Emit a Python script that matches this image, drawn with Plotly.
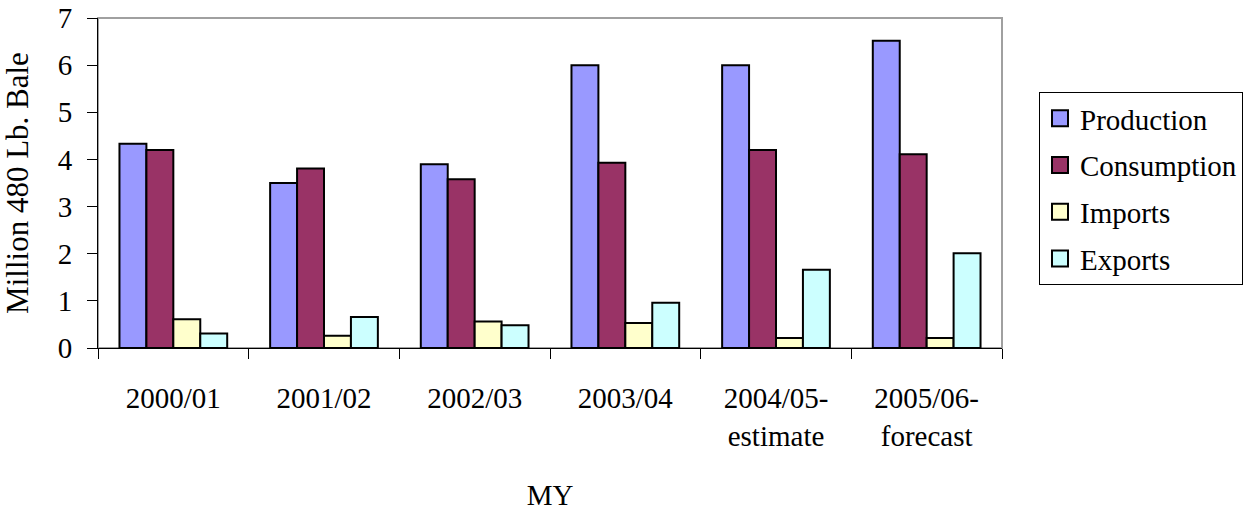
import plotly.graph_objects as go

categories = ["2000/01", "2001/02", "2002/03", "2003/04", "2004/05-<br>estimate", "2005/06-<br>forecast"]
production = [4.33, 3.50, 3.90, 6.00, 6.00, 6.52]
consumption = [4.20, 3.81, 3.58, 3.93, 4.20, 4.11]
imports = [0.61, 0.26, 0.56, 0.53, 0.21, 0.21]
exports = [0.31, 0.66, 0.48, 0.96, 1.66, 2.01]

series = [
    ("Production", production, "#9999FF"),
    ("Consumption", consumption, "#993366"),
    ("Imports", imports, "#FFFFCC"),
    ("Exports", exports, "#CCFFFF"),
]

FONT = "Liberation Serif, Times New Roman, serif"
FS = 29

fig = go.Figure()
for name, vals, color in series:
    fig.add_trace(go.Bar(
        name=name, x=categories, y=vals, legendgroup=name, showlegend=False,
        marker=dict(color=color, line=dict(color="black", width=2)),
    ))
for name, vals, color in series:
    fig.add_trace(go.Scatter(
        name=name, x=[None], y=[None], mode="markers", legendgroup=name,
        marker=dict(symbol="square", size=16, color=color, line=dict(color="black", width=2)),
    ))

fig.update_layout(
    width=1247, height=512,
    margin=dict(l=98, r=245, t=18, b=164),
    paper_bgcolor="white", plot_bgcolor="white",
    font=dict(family=FONT, size=FS, color="black"),
    barmode="group", bargap=0.285, bargroupgap=0,
    showlegend=True,
    legend=dict(
        xref="container", yref="container",
        x=1039 / 1247, y=1 - 92 / 512, xanchor="left", yanchor="top",
        bordercolor="black", borderwidth=1, bgcolor="white",
        font=dict(family=FONT, size=FS), itemsizing="trace",
        tracegroupgap=6,
    ),
    xaxis=dict(
        title=dict(text="MY", standoff=34, font=dict(size=FS)),
        ticks="outside", tickson="boundaries", ticklen=10, tickcolor="black",
        showline=True, linecolor="black", linewidth=1,
        showgrid=False, ticklabelstandoff=24, automargin=False,
        ticklabeloverflow="allow",
    ),
    yaxis=dict(
        title=dict(text="Million 480 Lb. Bale", standoff=20, font=dict(size=31)),
        range=[0, 7], dtick=1, ticks="outside", ticklen=10, tickcolor="black",
        showline=True, linecolor="black", linewidth=1,
        showgrid=False, zeroline=False, ticklabelstandoff=9, automargin=False,
        ticklabeloverflow="allow",
    ),
    shapes=[dict(type="rect", xref="paper", yref="paper", x0=0, x1=1, y0=0, y1=1,
                 line=dict(color="#A0A0A0", width=2), layer="below")],
)

fig.write_html("out.html", config={"displayModeBar": False},
               post_script="document.body.style.margin='0';")
